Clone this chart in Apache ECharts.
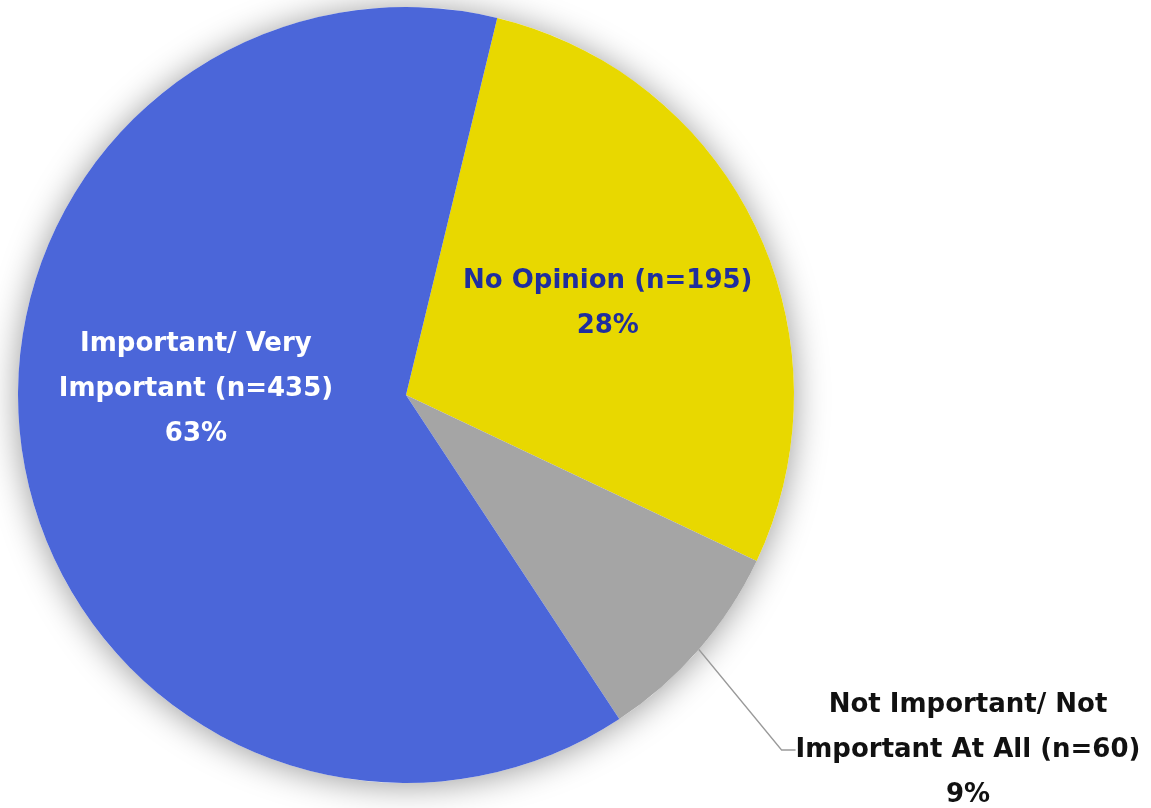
<!DOCTYPE html>
<html>
<head>
<meta charset="utf-8">
<script src="https://cdn.jsdelivr.net/npm/echarts@6/dist/echarts.min.js"></script>
<style>
  html, body { margin: 0; padding: 0; background: #fff; }
  #main { width: 1151px; height: 808px; }
</style>
</head>
<body>
<div id="main"></div>
<script>
// data
var names = ['No Opinion', 'Not Important/ Not\nImportant At All', 'Important/ Very\nImportant'];
var counts = [195, 60, 435];
var percents = ['28%', '9%', '63%'];
var colors = ['#E8D800', '#A5A5A5', '#4B66D9'];
var labelColors = ['#1F2E9E', '#111111', '#FFFFFF'];

var total = counts.reduce(function (a, b) { return a + b }, 0);

var myChart = echarts.init(document.getElementById('main'));

var pieData = names.map(function (n, i) {
  return {
    name: n,
    value: counts[i],
    itemStyle: { color: colors[i] },
    label: {
      color: labelColors[i],
      position: i === 1 ? 'outside' : 'inside'
    }
  }
});

var option = {
  backgroundColor: '#fff',
  animation: false,
  series: [
    {
      // soft shadow behind the whole pie
      type: 'pie',
      silent: true,
      center: [406, 395],
      radius: 388,
      z: 1,
      label: { show: false },
      labelLine: { show: false },
      itemStyle: {
        color: '#fff',
        shadowBlur: 34,
        shadowColor: 'rgba(0,0,0,0.4)',
        shadowOffsetY: 2
      },
      data: [{ value: total, name: 'all' }]
    },
    {
      type: 'pie',
      center: [406, 395],
      radius: 388,
      z: 2,
      startAngle: 76.4,
      clockwise: true,
      label: {
        fontFamily: 'DejaVu Sans',
        fontWeight: 'bold',
        fontSize: 26,
        lineHeight: 45,
        formatter: function (p) {
          var i = p.dataIndex;
          return '{c|' + names[i].split('\n').join('}\n{c|') + ' (n=' + counts[i] + ')}\n{c|' + percents[i] + '}';
        },
        rich: {
          c: { align: 'center' }
        }
      },
      labelLine: {
        length: 100,
        length2: 14,
        lineStyle: { color: '#9A9A9A', width: 1.3 }
      },
      labelLayout: function (params) {
        if (params.dataIndex === 1) {
          return { x: 968, y: 750, align: 'center', verticalAlign: 'middle' };
        }
        if (params.dataIndex === 2) {
          return { dx: -16, dy: -40 };
        }
        return { dx: 24, dy: -6 };
      },
      data: pieData
    }
  ]
};

myChart.setOption(option);
</script>
</body>
</html>
